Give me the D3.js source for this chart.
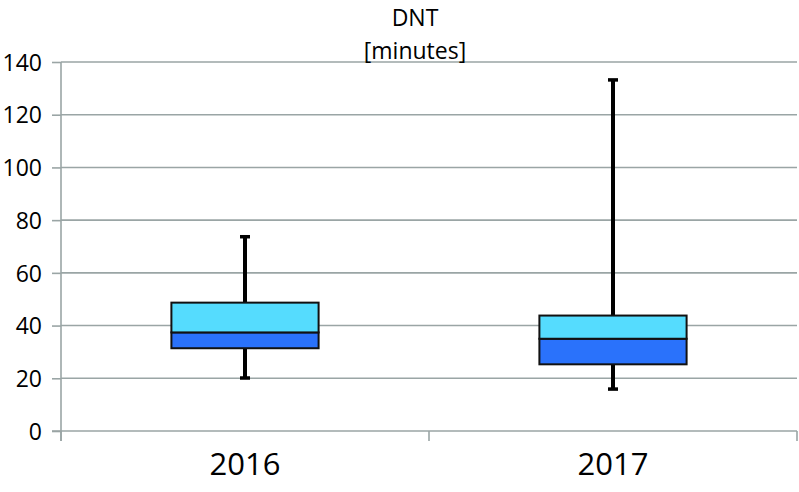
<!DOCTYPE html>
<html>
<head>
<meta charset="utf-8">
<script src="https://cdn.jsdelivr.net/npm/d3@7"></script>
<style>
  html, body { margin: 0; padding: 0; background: #fff; }
  svg { display: block; }
  text { font-family: "Open Sans", "Noto Sans", sans-serif; fill: #000; }
</style>
</head>
<body>
<svg id="chart" width="799" height="492"></svg>
<script>
const categories = ["2016", "2017"];
const whiskerMin = [20.2, 16.0];
const q1 = [31.4, 25.3];
const median = [37.4, 35.0];
const q3 = [48.7, 43.8];
const whiskerMax = [73.8, 133.3];
const yTicks = [0, 20, 40, 60, 80, 100, 120, 140];
const titleLines = ["DNT", "[minutes]"];

(function () {
const svg = d3.select("#chart");
const mLeft = 61, mRight = 797, mTop = 62, mBottom = 431;

const x = d3.scaleBand().domain(categories).range([mLeft, mRight]).padding(0);
const y = d3.scaleLinear().domain([0, 140]).range([mBottom, mTop]);

const gridColor = "#9aa5a5";

// gridlines
svg.append("g").selectAll("line").data(yTicks.filter(d => d > 0)).join("line")
  .attr("x1", mLeft).attr("x2", mRight)
  .attr("y1", d => y(d)).attr("y2", d => y(d))
  .attr("stroke", gridColor).attr("stroke-width", 1.6);

// y axis
const yAxis = svg.append("g").attr("transform", `translate(${mLeft},0)`)
  .call(d3.axisLeft(y).tickValues(yTicks).tickSize(9).tickPadding(10).tickSizeOuter(0));
yAxis.select(".domain").attr("stroke", gridColor).attr("stroke-width", 1.6)
  .attr("d", `M0,${mTop}V${mBottom + 10}`);
yAxis.selectAll(".tick line").attr("stroke", gridColor).attr("stroke-width", 1.6);
yAxis.selectAll(".tick text").style("font-size", "23px").attr("dy", "0.36em");

// x axis
const xAxis = svg.append("g").attr("transform", `translate(0,${mBottom})`)
  .call(d3.axisBottom(x).tickSize(0).tickPadding(22));
xAxis.select(".domain").attr("stroke", gridColor).attr("stroke-width", 1.6)
  .attr("d", `M${mLeft - 9},0H${mRight}`);
xAxis.selectAll(".tick text").style("font-size", "31px").attr("dy", "0.71em");
// category boundary ticks
const bounds = [mLeft, ...categories.map(c => x(c) + x.bandwidth())];
xAxis.append("g").selectAll("line").data(bounds).join("line")
  .attr("x1", d => d).attr("x2", d => d).attr("y1", 0).attr("y2", 10)
  .attr("stroke", gridColor).attr("stroke-width", 1.6);

// boxes
const boxW = x.bandwidth() * 0.4;
const g = svg.append("g");
categories.forEach((c, i) => {
  const cx = x(c) + x.bandwidth() / 2;
  g.append("line").attr("x1", cx).attr("x2", cx)
    .attr("y1", y(whiskerMin[i])).attr("y2", y(whiskerMax[i]))
    .attr("stroke", "#000").attr("stroke-width", 4);
  [whiskerMin[i], whiskerMax[i]].forEach(v => {
    g.append("rect").attr("x", cx - 5).attr("y", y(v) - 1.5)
      .attr("width", 10).attr("height", 3.5).attr("fill", "#000");
  });
  g.append("rect").attr("x", cx - boxW / 2).attr("y", y(median[i]))
    .attr("width", boxW).attr("height", y(q1[i]) - y(median[i]))
    .attr("fill", "#2a72fb").attr("stroke", "#111").attr("stroke-width", 2);
  g.append("rect").attr("x", cx - boxW / 2).attr("y", y(q3[i]))
    .attr("width", boxW).attr("height", y(median[i]) - y(q3[i]))
    .attr("fill", "#55dcfe").attr("stroke", "#111").attr("stroke-width", 2);
});

// title
svg.append("text").attr("x", 415).attr("y", 26).attr("text-anchor", "middle")
  .style("font-size", "23px").text(titleLines[0]);
svg.append("text").attr("x", 415).attr("y", 59).attr("text-anchor", "middle")
  .style("font-size", "23px").text(titleLines[1]);
})();
</script>
</body>
</html>
